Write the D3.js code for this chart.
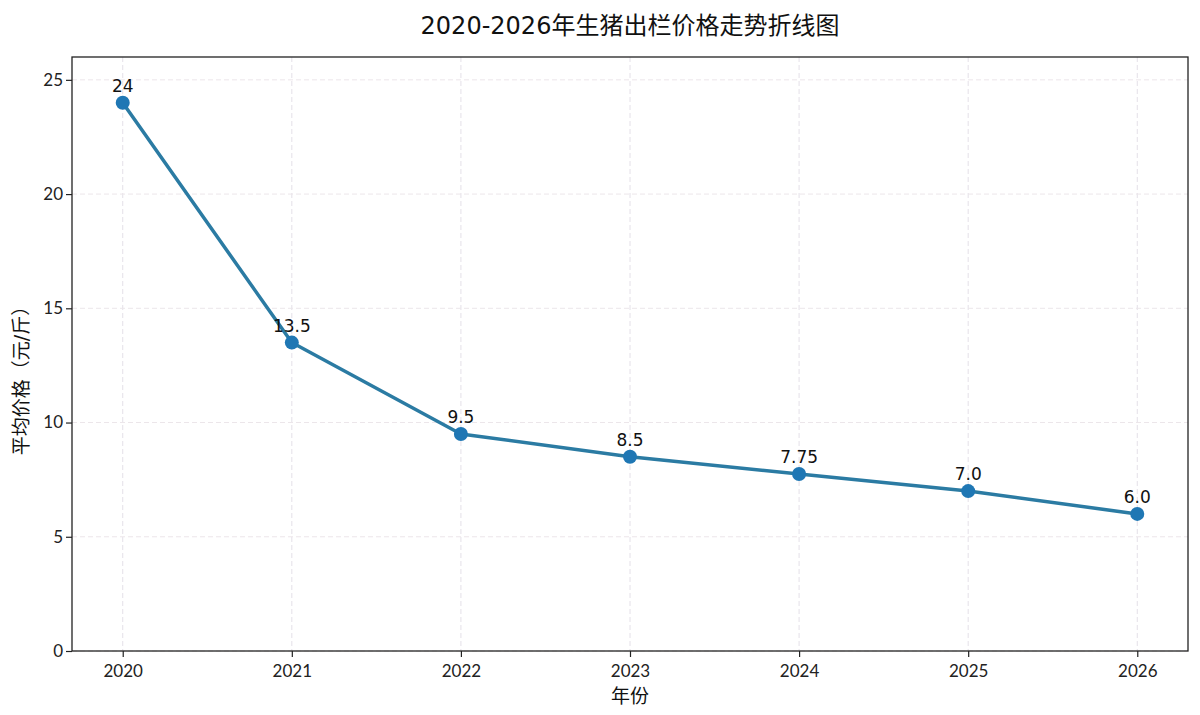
<!DOCTYPE html>
<html>
<head>
<meta charset="utf-8">
<script src="https://cdn.jsdelivr.net/npm/d3@7"></script>
<style>
  body { margin: 0; background: #fff; }
  text { font-family: "DejaVu Sans", "Noto Sans CJK SC", sans-serif; }
</style>
</head>
<body>
<div id="chart"></div>
<script>
// data
var years = [2020, 2021, 2022, 2023, 2024, 2025, 2026];
var prices = [24, 13.5, 9.5, 8.5, 7.75, 7.0, 6.0];
var priceLabels = ["24", "13.5", "9.5", "8.5", "7.75", "7.0", "6.0"];
var yTicks = [0, 5, 10, 15, 20, 25];

var svgWidth = 1200;
var svgHeight = 715;
var margin = { top: 57, right: 12, bottom: 64, left: 72 };
var width = svgWidth - margin.left - margin.right;
var height = svgHeight - margin.top - margin.bottom;

var svg = d3.select("#chart")
  .append("svg")
  .attr("width", svgWidth)
  .attr("height", svgHeight);

var chartGroup = svg.append("g")
  .attr("transform", `translate(${margin.left}, ${margin.top})`);

var xScale = d3.scaleLinear().domain([2019.7, 2026.3]).range([0, width]);
var yScale = d3.scaleLinear().domain([0, 26]).range([height, 0]);

// grid
chartGroup.append("g").selectAll("line")
  .data(years).enter().append("line")
  .attr("x1", d => xScale(d)).attr("x2", d => xScale(d))
  .attr("y1", 0).attr("y2", height)
  .attr("stroke", "#e4e0e8").attr("stroke-width", 1)
  .attr("stroke-dasharray", "5,3");

chartGroup.append("g").selectAll("line")
  .data(yTicks).enter().append("line")
  .attr("x1", 0).attr("x2", width)
  .attr("y1", d => yScale(d)).attr("y2", d => yScale(d))
  .attr("stroke", "#ece6ea").attr("stroke-width", 1)
  .attr("stroke-dasharray", "5,3");

// axes
var bottomAxis = d3.axisBottom(xScale).tickValues(years).tickFormat(d3.format("d")).tickSize(6).tickSizeOuter(0);
var leftAxis = d3.axisLeft(yScale).tickValues(yTicks).tickSize(6).tickSizeOuter(0);

var xAxisG = chartGroup.append("g")
  .attr("transform", `translate(0, ${height})`)
  .call(bottomAxis);
var yAxisG = chartGroup.append("g").call(leftAxis);

[xAxisG, yAxisG].forEach(g => {
  g.select(".domain").remove();
  g.selectAll(".tick line").attr("stroke", "#222").attr("stroke-width", 1.2);
  g.selectAll(".tick text").attr("fill", "#222")
    .style("font-family", "Lato, 'DejaVu Sans', sans-serif")
    .style("font-size", "17px");
});
xAxisG.selectAll(".tick text").attr("dy", "1.0em");

// frame
chartGroup.append("rect")
  .attr("x", 0).attr("y", 0).attr("width", width).attr("height", height)
  .attr("fill", "none").attr("stroke", "#222").attr("stroke-width", 1.3);

// line
var line = d3.line()
  .x((d, i) => xScale(years[i]))
  .y(d => yScale(d));

chartGroup.append("path")
  .datum(prices)
  .attr("d", line)
  .attr("fill", "none")
  .attr("stroke", "#2b7ba3")
  .attr("stroke-width", 3.5)
  .attr("stroke-linejoin", "round");

chartGroup.selectAll("circle")
  .data(prices).enter().append("circle")
  .attr("cx", (d, i) => xScale(years[i]))
  .attr("cy", d => yScale(d))
  .attr("r", 7)
  .attr("fill", "#1f77b4");

chartGroup.selectAll(".val")
  .data(prices).enter().append("text")
  .attr("class", "val")
  .attr("x", (d, i) => xScale(years[i]))
  .attr("y", d => yScale(d) - 11)
  .attr("text-anchor", "middle")
  .style("font-size", "17px")
  .attr("fill", "#111")
  .text((d, i) => priceLabels[i]);

// titles
svg.append("text")
  .attr("x", 630).attr("y", 34)
  .attr("text-anchor", "middle")
  .style("font-size", "24px")
  .attr("fill", "#111")
  .text("2020-2026年生猪出栏价格走势折线图");

svg.append("text")
  .attr("x", margin.left + width / 2).attr("y", 703)
  .attr("text-anchor", "middle")
  .style("font-size", "19px")
  .attr("fill", "#111")
  .text("年份");

svg.append("text")
  .attr("transform", `translate(28, ${margin.top + height / 2 + 22}) rotate(-90)`)
  .attr("text-anchor", "middle")
  .style("font-size", "19px")
  .attr("fill", "#111")
  .text("平均价格（元/斤）");
</script>
</body>
</html>
